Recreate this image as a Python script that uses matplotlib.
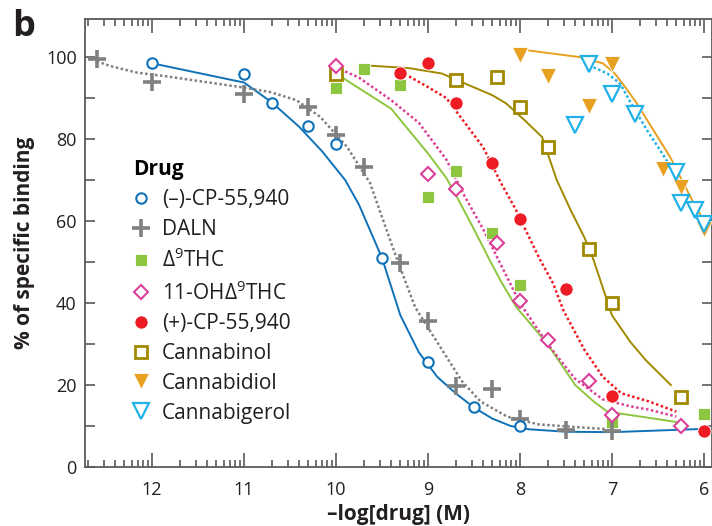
import numpy as np
import matplotlib
matplotlib.use("Agg")
import matplotlib.pyplot as plt
from matplotlib.lines import Line2D
from matplotlib.ticker import FixedLocator

plt.rcParams['font.family'] = ['Open Sans', 'DejaVu Sans']
plt.rcParams['mathtext.fontset'] = 'custom'
plt.rcParams['mathtext.rm'] = 'Open Sans'

# --- measured points (x = -log[drug], y = % of specific binding) ---
cp_neg_x = [12.0, 11.0, 10.7, 10.3, 10.0, 9.5, 9.0, 8.5, 8.0]
cp_neg_y = [98.5, 96.0, 88.7, 83.2, 78.7, 51.0, 25.6, 14.6, 9.9]
daln_x = [12.6, 12.0, 11.0, 10.3, 10.0, 9.7, 9.3, 9.0, 8.7, 8.3, 8.0, 7.5, 7.0]
daln_y = [99.6, 93.9, 91.1, 87.8, 81.1, 73.1, 49.7, 35.5, 19.8, 19.0, 11.8, 9.1, 8.7]
thc_x = [10.0, 9.7, 9.3, 9.0, 8.7, 8.3, 8.0, 7.0, 6.0]
thc_y = [92.5, 97.0, 93.3, 65.9, 72.3, 57.1, 44.4, 11.1, 13.0]
oh_thc_x = [10.0, 9.0, 8.7, 8.25, 8.0, 7.7, 7.25, 7.0, 6.25]
oh_thc_y = [97.8, 71.6, 67.8, 54.6, 40.6, 31.0, 21.1, 12.7, 10.1]
cp_pos_x = [9.3, 9.0, 8.7, 8.3, 8.0, 7.5, 7.0, 6.0]
cp_pos_y = [96.1, 98.6, 88.8, 74.1, 60.5, 43.4, 17.4, 8.9]
cbn_x = [10.0, 8.7, 8.25, 8.0, 7.7, 7.25, 7.0, 6.25]
cbn_y = [96.0, 94.3, 95.1, 87.8, 78.0, 53.3, 40.1, 17.2]
cbd_x = [8.0, 7.7, 7.25, 7.0, 6.75, 6.45, 6.25, 6.0]
cbd_y = [100.5, 95.3, 88.0, 98.2, 85.8, 72.8, 68.4, 58.0]
cbg_x = [7.25, 7.0, 7.4, 6.75, 6.3, 6.25, 6.1, 6.0]
cbg_y = [98.2, 91.1, 83.4, 86.1, 71.9, 64.3, 62.7, 59.4]

# --- fitted curves ---
cp_neg_fit_x = [12.0, 11.0, 10.7, 10.4, 10.15, 9.9, 9.75, 9.5, 9.3, 9.1, 8.9, 8.7, 8.5, 8.3, 8.1, 7.9, 7.5, 7.0, 6.5, 6.0]
cp_neg_fit_y = [98.5, 93.8, 89.0, 83.0, 77.0, 70.0, 64.0, 51.0, 37.0, 28.0, 22.0, 18.0, 14.5, 11.8, 10.0, 9.2, 8.6, 8.5, 8.9, 9.3]
daln_fit_x = [12.6, 12.45, 12.16, 11.84, 11.04, 10.72, 10.43, 10.17, 9.88, 9.63, 9.45, 9.32, 9.14, 8.87, 8.63, 8.43, 8.14, 7.8, 7.24, 7.0]
daln_fit_y = [99.0, 97.8, 96.2, 95.3, 92.7, 91.5, 89.5, 85.4, 78.1, 69.3, 57.8, 49.7, 39.0, 29.4, 20.9, 16.0, 12.3, 10.4, 9.5, 9.2]
thc_fit_x = [10.0, 9.4, 9.0, 8.8, 8.7, 8.5, 8.33, 8.2, 8.04, 7.7, 7.4, 7.2, 7.05, 6.6, 6.22]
thc_fit_y = [96.0, 87.4, 76.5, 70.5, 66.5, 58.0, 50.5, 45.0, 39.0, 30.0, 20.0, 16.0, 13.5, 12.0, 10.7]
oh_thc_fit_x = [10.0, 9.75, 9.4, 9.1, 8.8, 8.6, 8.4, 8.2, 8.0, 7.7, 7.4, 7.1, 6.8, 6.6, 6.3]
oh_thc_fit_y = [97.5, 95.0, 89.5, 84.0, 75.0, 66.0, 58.0, 49.0, 40.0, 30.0, 21.5, 16.5, 14.8, 14.0, 12.3]
cp_pos_fit_x = [9.3, 9.0, 8.8, 8.55, 8.4, 8.2, 8.05, 7.9, 7.78, 7.64, 7.53, 7.3, 7.1, 6.9, 6.6, 6.3]
cp_pos_fit_y = [96.5, 92.7, 90.0, 82.5, 78.0, 69.0, 63.0, 56.0, 50.5, 44.8, 38.3, 28.6, 22.0, 18.0, 16.0, 13.5]
cbn_fit_x = [9.7, 9.4, 9.2, 8.85, 8.55, 8.3, 8.15, 7.95, 7.76, 7.6, 7.45, 7.3, 7.2, 7.0, 6.8, 6.63, 6.36]
cbn_fit_y = [98.0, 97.6, 97.3, 96.0, 93.1, 90.7, 88.7, 84.6, 80.5, 70.0, 62.7, 56.0, 50.5, 37.0, 30.5, 26.0, 20.0]
cbd_fit_x = [7.9, 7.35, 7.1, 6.97, 6.85, 6.73, 6.6, 6.37, 6.12, 6.0]
cbd_fit_y = [101.6, 100.0, 98.5, 96.0, 92.5, 88.7, 84.0, 75.7, 64.7, 60.0]
cbg_fit_x = [7.25, 7.05, 6.91, 6.8, 6.62, 6.42, 6.33]
cbg_fit_y = [98.0, 96.0, 93.5, 89.0, 82.2, 75.3, 72.0]

labels = ['(\u2013)-CP-55,940', 'DALN', '\u0394$^\\mathregular{9}$THC',
          '11-OH\u0394$^\\mathregular{9}$THC', '(+)-CP-55,940',
          'Cannabinol', 'Cannabidiol', 'Cannabigerol']

blue = '#0f72b9'
gray = '#808080'
green = '#8dc63f'
magenta = '#dc3f98'
red = '#ed1c24'
olive = '#a08900'
orange = '#e8a020'
cyan = '#1fb1e8'

fig = plt.figure(figsize=(7.12, 5.26), dpi=100)
ax = fig.add_axes([85/712, 1 - 467/526, 627/712, 448/526])

dot = (0, (1, 1))
ax.plot(cp_neg_fit_x, cp_neg_fit_y, color=blue, lw=1.4, zorder=2)
ax.plot(daln_fit_x, daln_fit_y, color=gray, lw=1.8, ls=dot, zorder=2)
ax.plot(thc_fit_x, thc_fit_y, color=green, lw=1.4, zorder=2)
ax.plot(oh_thc_fit_x, oh_thc_fit_y, color=magenta, lw=1.8, ls=dot, zorder=2)
ax.plot(cp_pos_fit_x, cp_pos_fit_y, color=red, lw=1.8, ls=dot, zorder=2)
ax.plot(cbn_fit_x, cbn_fit_y, color=olive, lw=1.4, zorder=2)
ax.plot(cbd_fit_x, cbd_fit_y, color=orange, lw=1.4, zorder=2)
ax.plot(cbg_fit_x, cbg_fit_y, color=cyan, lw=1.8, ls=dot, zorder=2)

styles = [
    dict(marker='o', ms=7.5, mfc='white', mec=blue, mew=1.5),
    dict(marker='+', ms=13, mec=gray, mew=2.6),
    dict(marker='s', ms=8.5, mfc=green, mec='white', mew=0.6),
    dict(marker='D', ms=7.5, mfc='white', mec=magenta, mew=1.5),
    dict(marker='o', ms=9.5, mfc=red, mec='white', mew=0.6),
    dict(marker='s', ms=9, mfc='white', mec=olive, mew=2.0),
    dict(marker='v', ms=11, mfc=orange, mec='white', mew=0.6),
    dict(marker='v', ms=11, mfc='white', mec=cyan, mew=1.6),
]
series = [(cp_neg_x, cp_neg_y), (daln_x, daln_y), (thc_x, thc_y), (oh_thc_x, oh_thc_y),
          (cp_pos_x, cp_pos_y), (cbn_x, cbn_y), (cbd_x, cbd_y), (cbg_x, cbg_y)]
zorders = [5, 4, 3, 4, 5, 3, 4, 5]
for (xs, ys), st, z in zip(series, styles, zorders):
    ax.plot(xs, ys, ls='none', zorder=z, **st)

ax.set_xlim(12.728, 5.913)
ax.set_ylim(0, 109.3)

major_x = [12, 11, 10, 9, 8, 7, 6]
minor_x = [n - np.log10(k) for n in range(7, 14) for k in range(2, 10)]
ax.xaxis.set_major_locator(FixedLocator(major_x))
ax.xaxis.set_minor_locator(FixedLocator(minor_x))
ax.set_xticklabels([str(v) for v in major_x])
ax.set_yticks(range(0, 101, 10))
ax.set_yticklabels([str(v) if v % 20 == 0 else '' for v in range(0, 101, 10)])

spine_color = '#5a5a5a'
for s in ax.spines.values():
    s.set_color(spine_color)
    s.set_linewidth(1.3)
ax.tick_params(axis='both', which='both', direction='in', top=True, right=True,
               color=spine_color, width=1.2, labelsize=13, labelcolor='#231f20')
ax.tick_params(axis='x', which='major', length=10, pad=10)
ax.tick_params(axis='x', which='minor', length=5)
ax.tick_params(axis='y', which='major', length=7, pad=6)

ax.set_xlabel('\u2013log[drug] (M)', fontsize=15, fontweight='bold', color='#231f20', labelpad=4)
ax.set_ylabel('% of specific binding', fontsize=15, fontweight='bold', color='#231f20', labelpad=8)

handles = [Line2D([], [], ls='none', **st) for st in styles]
leg = ax.legend(handles, labels, title='Drug', loc='upper left',
                bbox_to_anchor=(0.06, 0.71), frameon=False, fontsize=15,
                handlelength=0.8, handletextpad=0.6, labelspacing=0.42,
                borderpad=0, alignment='left')
leg.get_title().set_fontweight('bold')
leg.get_title().set_fontsize(15)
for t in leg.get_texts():
    t.set_color('#231f20')

fig.text(12/712, 1 - 36/526, 'b', fontsize=26, fontweight='bold', color='#231f20')

fig.savefig('out.png', dpi=100)
